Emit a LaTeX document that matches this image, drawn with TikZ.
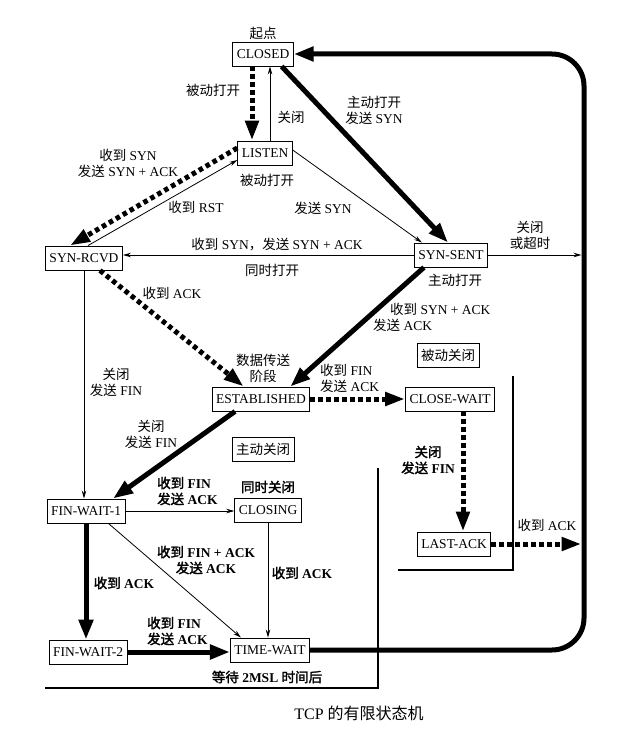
\documentclass[tikz,border=0pt]{standalone}
\usepackage{fontspec}
\setmainfont{Liberation Serif}
\newfontfamily\cjk[AutoFakeBold=2]{Noto Sans CJK SC}
\newcommand\zh[1]{{\cjk #1}}
\usetikzlibrary{calc}
\usetikzlibrary{arrows.meta}

\begin{document}
\begin{tikzpicture}[x=1pt, y=-1pt,
  font=\fontsize{13.5}{16}\selectfont,
  state/.style={draw, line width=.9pt, fill=white, minimum height=24pt, inner xsep=4pt, inner ysep=2pt},
  lbl/.style={align=center, inner sep=1pt},
  blbl/.style={lbl, font=\fontsize{13.5}{16}\selectfont\bfseries},
  fineline/.style={line width=.8pt, -{Stealth[length=8pt,width=4.5pt]}},
  fatline/.style={line width=5pt, -{Triangle[length=20pt,width=14pt]}},
  dotline/.style={line width=5pt, dash pattern=on 4.5pt off 3.5pt, -{Triangle[length=20pt,width=13pt]}},
  frame/.style={line width=1.2pt}
]
\useasboundingbox (0,0) rectangle (621,754);

% states
\node[state] (closed) at (263,54) {CLOSED};
\node[lbl, above=1pt] (start) at (closed.north) {\zh{起点}};
\node[state] (listen) at (265,153) {LISTEN};
\node[state] (synrcvd) at (84,258) {SYN-RCVD};
\node[state] (synsent) at (451,255) {SYN-SENT};
\node[state] (estab) at (261,399) {ESTABLISHED};
\node[state] (closewait) at (450,399) {CLOSE-WAIT};
\node[state] (lastack) at (454,544) {LAST-ACK};
\node[state] (finwait1) at (86,511) {FIN-WAIT-1};
\node[state] (closing) at (268,510) {CLOSING};
\node[state] (finwait2) at (88,652) {FIN-WAIT-2};
\node[state] (timewait) at (270,650) {TIME-WAIT};
\node[state] (passive) at (448,355) {\zh{被动关闭}};
\node[state] (active) at (263,449) {\zh{主动关闭}};
\coordinate (loopx) at (584,0);

% open
\draw[dotline] ([xshift=-11pt]closed.south) -- ([xshift=-13pt]listen.north);
\draw[fineline] ([xshift=5pt]listen.north) -- ([xshift=7pt]closed.south);
\draw[fatline] ([xshift=-12pt]closed.south east) -- ([xshift=-3pt]synsent.north);
\draw[fineline] ([yshift=3pt]listen.east) -- ([xshift=8pt]synsent.north west);
\draw[dotline] ([yshift=5pt]listen.west) -- ([xshift=-14pt]synrcvd.north);
\draw[fineline] ([xshift=4pt]synrcvd.north) -- ([yshift=-7pt]listen.west);
\draw[fineline] (synsent.west) -- (synsent.west -| synrcvd.east);
\draw[fineline, shorten >=2.5pt] (synsent.east) -- (synsent.east -| loopx);
\draw[fatline] ([xshift=10pt]synsent.south west) -- ([xshift=-20pt]estab.north east);
\draw[dotline] ([xshift=16pt]synrcvd.south) -- ([xshift=32pt]estab.north west);

% passive close
\draw[dotline] (estab.east) -- (closewait.west);
\draw[dotline] ([xshift=13pt]closewait.south) -- ([xshift=9pt]lastack.north);
\draw[dotline, shorten >=2.5pt] (lastack.east) -- (lastack.east -| loopx);
\draw[frame] (398,570) -- (513,570) -- (513,376);

% active close
\draw[fatline] ([xshift=-26pt]estab.south) -- ([xshift=27pt]finwait1.north);
\draw[fineline] (synrcvd.south) -- (synrcvd.south |- finwait1.north);
\draw[fineline] (finwait1.east) -- (finwait1.east -| closing.west);
\draw[fineline] ([xshift=-17pt]finwait1.south east) -- ([xshift=11pt]timewait.north west);
\draw[fatline] (finwait1.south) -- (finwait1.south |- finwait2.north);
\draw[fineline] (closing.south) -- (closing.south |- timewait.north);
\draw[fatline] (finwait2.east) -- (finwait2.east -| timewait.west);
\draw[frame] (378,468) -- (378,688) -- (45,688);

% back to CLOSED
\draw[fatline, rounded corners=32pt] (timewait.east) -- (timewait.east -| loopx) -- (closed.east -| loopx) -- (closed.east);

% labels
\node[lbl] (l1) at (213,90) {\zh{被动打开}};
\node[lbl] (l2) at (291,117) {\zh{关闭}};
\node[lbl] (l3) at (374,110) {\zh{主动打开}\\\zh{发送} SYN};
\node[lbl] (l4) at (128,163) {\zh{收到} SYN\\\zh{发送} SYN + ACK};
\node[lbl] (l5) at (267,180) {\zh{被动打开}};
\node[lbl] (l6) at (196,207) {\zh{收到} RST};
\node[lbl] (l7) at (323,208) {\zh{发送} SYN};
\node[lbl] (l8) at (277,245) {\zh{收到} SYN\zh{，发送} SYN + ACK};
\node[lbl] (l9) at (272,270) {\zh{同时打开}};
\node[lbl] (l10) at (530,235) {\zh{关闭}\\\zh{或超时}};
\node[lbl] (l11) at (455,280) {\zh{主动打开}};
\node[lbl] (l12) at (172,293) {\zh{收到} ACK};
\node[lbl, anchor=west, align=left] (l13) at (372,317) {\hspace*{17pt}\zh{收到} SYN + ACK\\\zh{发送} ACK};
\node[lbl] (l14) at (263,368) {\zh{数据传送}\\\zh{阶段}};
\node[lbl, anchor=west, align=left] (l15) at (319,378) {\zh{收到} FIN\\\zh{发送} ACK};
\node[blbl] (l16) at (428,460) {\zh{关闭}\\\zh{发送} FIN};
\node[lbl] (l17) at (547,525) {\zh{收到} ACK};
\node[lbl] (l18) at (116,382) {\zh{关闭}\\\zh{发送} FIN};
\node[lbl] (l19) at (151,434) {\zh{关闭}\\\zh{发送} FIN};
\node[blbl, anchor=west, align=left] (l20) at (156,491) {\zh{收到} FIN\\\zh{发送} ACK};
\node[blbl] (l21) at (268,487) {\zh{同时关闭}};
\node[blbl] (l22) at (206,560) {\zh{收到} FIN + ACK\\\zh{发送} ACK};
\node[blbl] (l23) at (124,583) {\zh{收到} ACK};
\node[blbl] (l24) at (302,573) {\zh{收到} ACK};
\node[blbl, anchor=west, align=left] (l25) at (146,631) {\zh{收到} FIN\\\zh{发送} ACK};
\node[blbl] (l26) at (267,677) {\zh{等待} 2MSL \zh{时间后}};
\node[lbl, font=\fontsize{16}{18}\selectfont] (caption) at (359,713) {TCP \zh{的有限状态机}};
\end{tikzpicture}
\end{document}
